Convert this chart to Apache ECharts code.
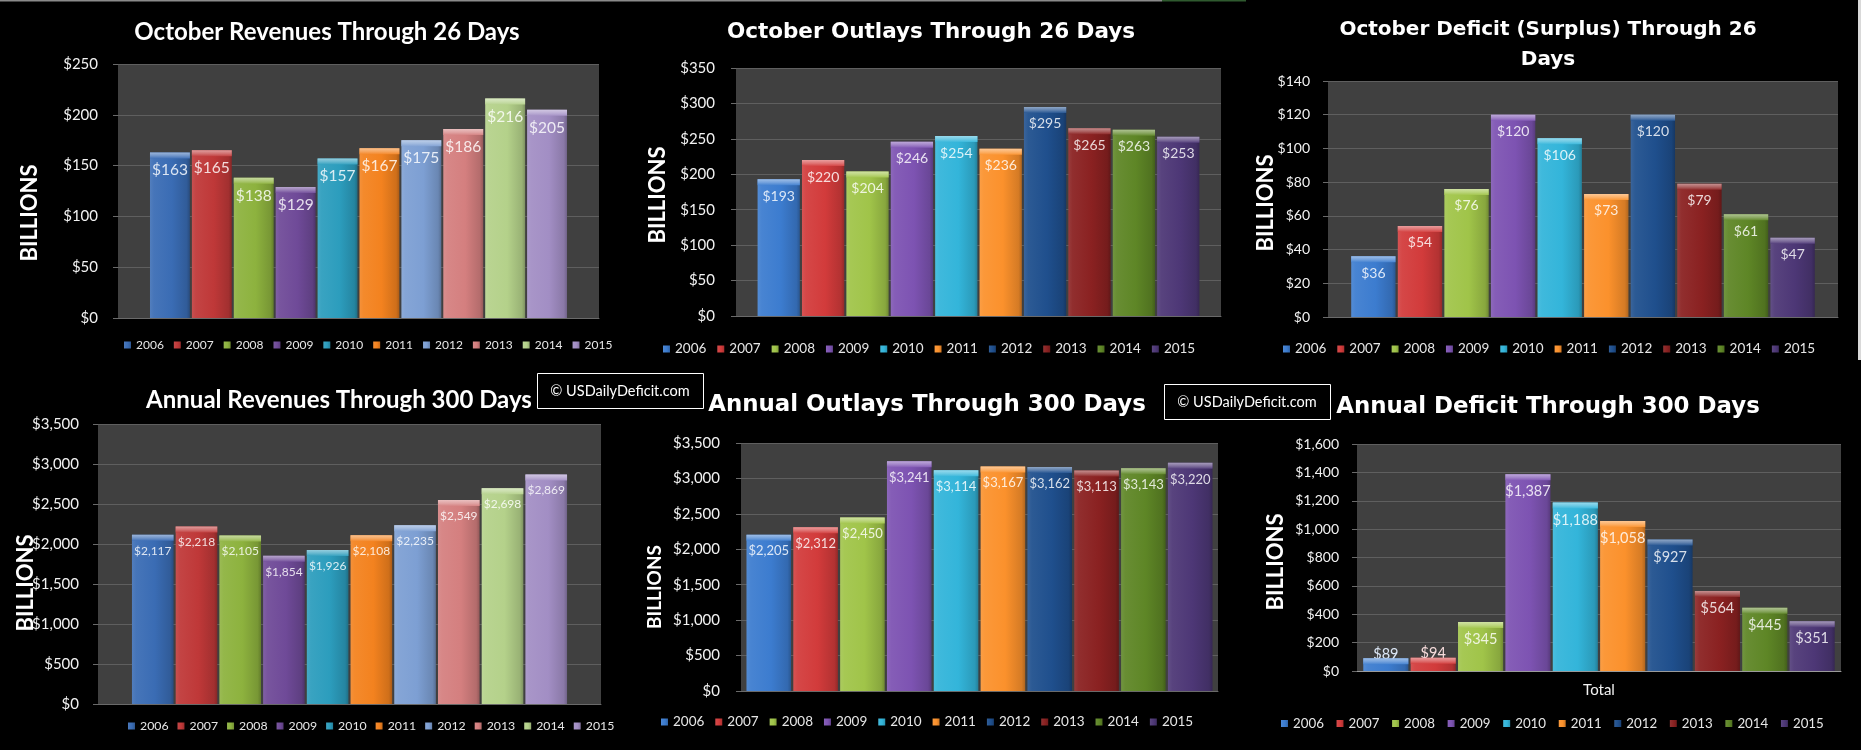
<!DOCTYPE html>
<html><head><meta charset="utf-8">
<script src="https://cdn.jsdelivr.net/npm/echarts@6/dist/echarts.min.js"></script>
<style>html,body{margin:0;padding:0;background:#000;}#c{width:1861px;height:750px;}</style>
</head><body><div id="c"></div>
<script>
// ---------------- DATA ----------------
const years = ['2006','2007','2008','2009','2010','2011','2012','2013','2014','2015'];
const octRevenues = [163,165,138,129,157,167,175,186,216,205];
const octOutlays  = [193,220,204,246,254,236,295,265,263,253];
const octDeficit  = [36,54,76,120,106,73,120,79,61,47];
const annRevenues = [2117,2218,2105,1854,1926,2108,2235,2549,2698,2869];
const annOutlays  = [2205,2312,2450,3241,3114,3167,3162,3113,3143,3220];
const annDeficit  = [89,94,345,1387,1188,1058,927,564,445,351];
const categoryLabel = ['Total'];
const titles = ['October Revenues Through 26 Days','October Outlays Through 26 Days',
  'October Deficit (Surplus) Through 26\nDays','Annual Revenues Through 300 Days',
  'Annual Outlays Through 300 Days','Annual Deficit Through 300 Days'];
const axisName = 'BILLIONS';
const watermark = '\u00A9 USDailyDeficit.com';

// ---------------- STYLE ----------------
const palLight = ['#3a6cb4','#bf3838','#8db23e','#6f4a98','#2c9dbd','#f3821f','#7d9fd3','#d47f7f','#b4d18a','#a28ec4'];
const palDark  = ['#3c7ccf','#d23b3b','#a0c449','#7d53b2','#33b5da','#fb912c','#1f4f8d','#8a2121','#5e8626','#4d3776'];
function mix(hex,t){
  const n=parseInt(hex.slice(1),16);let r=n>>16&255,g=n>>8&255,b=n&255;
  const f=c=>Math.round(t>0?c+(255-c)*t:c*(1+t));
  return 'rgb('+f(r)+','+f(g)+','+f(b)+')';
}
function grad(c){
  return {type:'linear',x:0,y:0,x2:1,y2:0,colorStops:[
    {offset:0,color:mix(c,0.12)},{offset:0.1,color:mix(c,0.06)},
    {offset:0.55,color:c},{offset:0.92,color:mix(c,-0.15)},{offset:1,color:mix(c,-0.3)}]};
}
function bevel(c){
  return {type:'linear',x:0,y:0,x2:0,y2:1,colorStops:[
    {offset:0,color:mix(c,0.5)},{offset:0.55,color:mix(c,0.28)},{offset:1,color:mix(c,0.05)}]};
}
const fmt = v => '$' + Number(v).toLocaleString('en-US');

const panels = [
 {vals:octRevenues, pal:palLight, font:'bold 24px Lato', tx:327, ty:32, lh:30,
  grid:{left:118,top:64,width:481,height:254}, max:250, interval:50, gap:'13.3%',
  tickFont:15, tickMargin:20, labFont:15.5, legLeft:124, legTop:339, legFont:12, legGap:10, bx:30, by:213, bFont:22},
 {vals:octOutlays, pal:palDark, font:'bold 21.5px "DejaVu Sans"', tx:931, ty:32, lh:30,
  grid:{left:736,top:68,width:485,height:248}, max:350, interval:50, gap:'8.9%',
  tickFont:15, tickMargin:21, labFont:14, legLeft:663, legTop:342, legFont:13.5, legGap:11, bx:658, by:195, bFont:22},
 {vals:octDeficit, pal:palDark, font:'bold 20px "DejaVu Sans"', tx:1548, ty:45, lh:30,
  grid:{left:1328,top:81,width:510,height:236}, max:140, interval:20, gap:'9.1%',
  tickFont:14, tickMargin:18, labFont:14, legLeft:1283, legTop:342, legFont:13.5, legGap:11, bx:1266, by:203, bFont:22},
 {vals:annRevenues, pal:palLight, font:'bold 24px Lato', tx:339, ty:400, lh:30,
  grid:{left:98,top:424,width:503,height:280}, max:3500, interval:500, gap:'13.5%',
  tickFont:15, tickMargin:19, labFont:12, legLeft:128, legTop:720, legFont:12.3, legGap:9, bx:26, by:583, bFont:22},
 {vals:annOutlays, pal:palDark, font:'bold 22.9px "DejaVu Sans"', tx:927, ty:405, lh:30,
  grid:{left:741,top:443,width:477,height:248}, max:3500, interval:500, gap:'2.3%',
  tickFont:15, tickMargin:21, labFont:13, legLeft:661, legTop:715, legFont:13.5, legGap:11, bx:655, by:587, bFont:19},
 {vals:annDeficit, pal:palDark, font:'bold 22.9px "DejaVu Sans"', tx:1548, ty:407, lh:30,
  grid:{left:1357,top:444,width:484,height:227}, max:1600, interval:200, gap:'2.6%',
  tickFont:14, tickMargin:18, labFont:14.5, legLeft:1281, legTop:717, legFont:13.3, legGap:12.7, bx:1276, by:562, bFont:22, showCat:true}
];

const grids=[],xAxes=[],yAxes=[],series=[],legends=[],graphics=[];
panels.forEach((p,pi)=>{
  grids.push(Object.assign({show:true,backgroundColor:'#404040',borderWidth:0,containLabel:false},p.grid));
  xAxes.push({type:'category',gridIndex:pi,data:categoryLabel,
    axisTick:{show:false},
    axisLine:{show:true,lineStyle:{color:p.showCat?'#9a9a9a':'#6a6a6a',width:1}},
    axisLabel:{show:!!p.showCat,color:'#f2f2f2',fontFamily:'Lato',fontSize:15,margin:12}});
  yAxes.push({type:'value',gridIndex:pi,min:0,max:p.max,interval:p.interval,
    axisLine:{show:false},
    axisTick:{show:true,length:5,lineStyle:{color:'#6a6a6a'}},
    splitLine:{show:true,lineStyle:{color:'#5f5f5f',width:1}},
    axisLabel:{formatter:fmt,color:'#f2f2f2',fontFamily:'Lato',fontSize:p.tickFont,margin:p.tickMargin}});
  years.forEach((y,i)=>{
    const v=p.vals[i];
    const pxH=v/p.max*p.grid.height;
    const c=p.pal[i];
    const lab={show:true,formatter:d=>fmt(d.value),color:mix(c,0.82),fontFamily:'Lato',fontSize:p.labFont};
    if(pxH<28){lab.position='top';lab.distance=-3;} else {lab.position='insideTop';lab.distance=10;}
    series.push({type:'bar',name:y,xAxisIndex:pi,yAxisIndex:pi,barGap:'5%',barCategoryGap:p.gap,z:2,
      data:[v],itemStyle:{color:grad(c)},label:lab,emphasis:{disabled:true}});
    // top bevel highlight, laid out by the library on the same bars
    series.push({type:'pictorialBar',name:y,xAxisIndex:pi,yAxisIndex:pi,barGap:'5%',barCategoryGap:p.gap,z:3,
      silent:true,symbol:'rect',symbolSize:['100%',6],symbolPosition:'end',symbolClip:false,
      data:[v],itemStyle:{color:bevel(c)},label:{show:false},emphasis:{disabled:true}});
  });
  legends.push({left:p.legLeft,top:p.legTop,padding:0,itemWidth:7,itemHeight:7,itemGap:p.legGap,icon:'rect',
    selectedMode:false,
    textStyle:{color:'#e6e6e6',fontFamily:'Lato',fontSize:p.legFont},
    data:years.map((y,i)=>({name:y,itemStyle:{color:grad(p.pal[i])}}))});
  graphics.push({type:'text',x:p.tx,y:p.ty,z:10,style:{text:titles[pi],fill:'#ffffff',font:p.font,
    textAlign:'center',align:'center',textVerticalAlign:'middle',verticalAlign:'middle',lineHeight:p.lh}});
  graphics.push({type:'text',x:p.bx,y:p.by,rotation:Math.PI/2,z:10,style:{text:axisName,fill:'#ffffff',
    font:'bold '+p.bFont+'px Lato',textAlign:'center',align:'center',textVerticalAlign:'middle',verticalAlign:'middle'}});
});
// watermarks
[[537,373],[1164,384]].forEach(([x,y])=>{
  graphics.push({type:'rect',z:20,shape:{x:x+0.5,y:y+0.5,width:166,height:35},style:{fill:'#000',stroke:'#ffffff',lineWidth:1}});
  graphics.push({type:'text',z:21,x:x+83,y:y+18,style:{text:watermark,fill:'#ffffff',font:'14.5px Lato',
    textAlign:'center',align:'center',textVerticalAlign:'middle',verticalAlign:'middle'}});
});
// page frame bits
graphics.push({type:'rect',z:5,shape:{x:0,y:0,width:1162,height:1.5},style:{fill:'#8a8a8a'}});
graphics.push({type:'rect',z:5,shape:{x:1162,y:0,width:84,height:1.5},style:{fill:'#2f5a2f'}});
graphics.push({type:'rect',z:5,shape:{x:1858,y:0,width:3,height:360},style:{fill:'#d9d9d9'}});

const chart=echarts.init(document.getElementById('c'),null,{renderer:'canvas'});
chart.setOption({backgroundColor:'#000000',animation:false,grid:grids,xAxis:xAxes,yAxis:yAxes,
  series:series,legend:legends,graphic:{elements:graphics}});
</script></body></html>
